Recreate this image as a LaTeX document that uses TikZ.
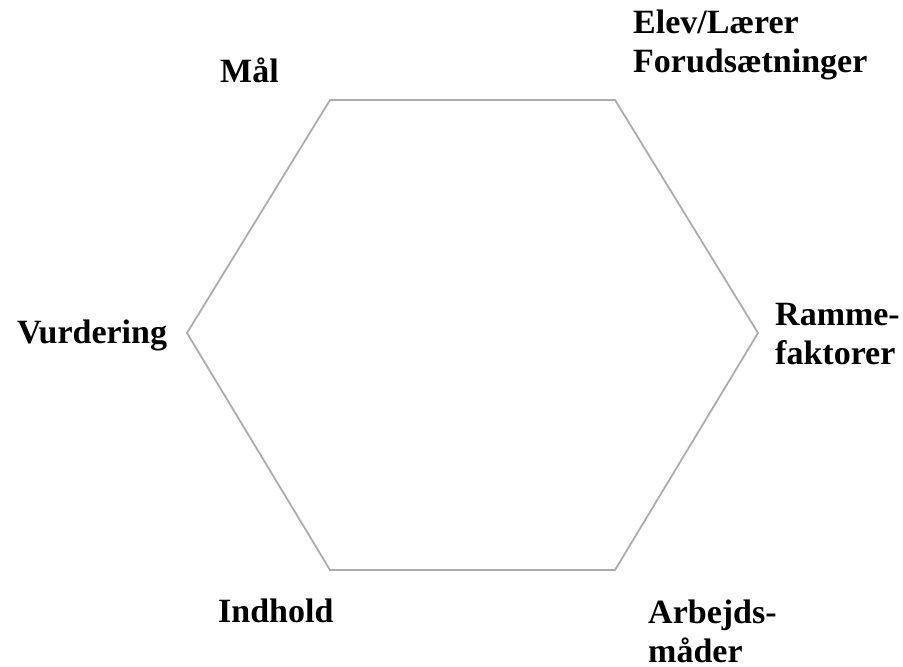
\documentclass[tikz,border=0pt]{standalone}
\usepackage{fontspec}
\setmainfont{Liberation Serif}
\usepackage{tikz}
\usetikzlibrary{positioning, calc}

\begin{document}
\begin{tikzpicture}[
  x=1pt, y=-1pt,
  lbl/.style={inner sep=0pt, anchor=base west, align=left,
              font=\fontsize{34}{39}\selectfont\bfseries},
  edge/.style={draw=gray!65, line width=1.8pt, line join=miter}
]
  \useasboundingbox (0,0) rectangle (903,667);

  % corners of the hexagon
  \coordinate (tl) at (330,100);
  \coordinate (tr) at (615,100);
  \coordinate (r)  at (758,333);
  \coordinate (br) at (615,570);
  \coordinate (bl) at (330,570);
  \coordinate (l)  at (187,333);

  \draw[edge] (tl) -- (tr) -- (r) -- (br) -- (bl) -- (l) -- cycle;

  % labels (base = baseline of the last line)
  \node[lbl] (maal) at (220,82) {Mål};
  \node[lbl] (elev) at (633,72) {Elev/Lærer\\Forudsætninger};
  \node[lbl] (vurd) at (17,343) {Vurdering};
  \node[lbl] (ramme) at (775,364) {Ramme-\\faktorer};
  \node[lbl] (indh) at (218,622) {Indhold};
  \node[lbl] (arb) at (648,662) {Arbejds-\\måder};
\end{tikzpicture}
\end{document}
